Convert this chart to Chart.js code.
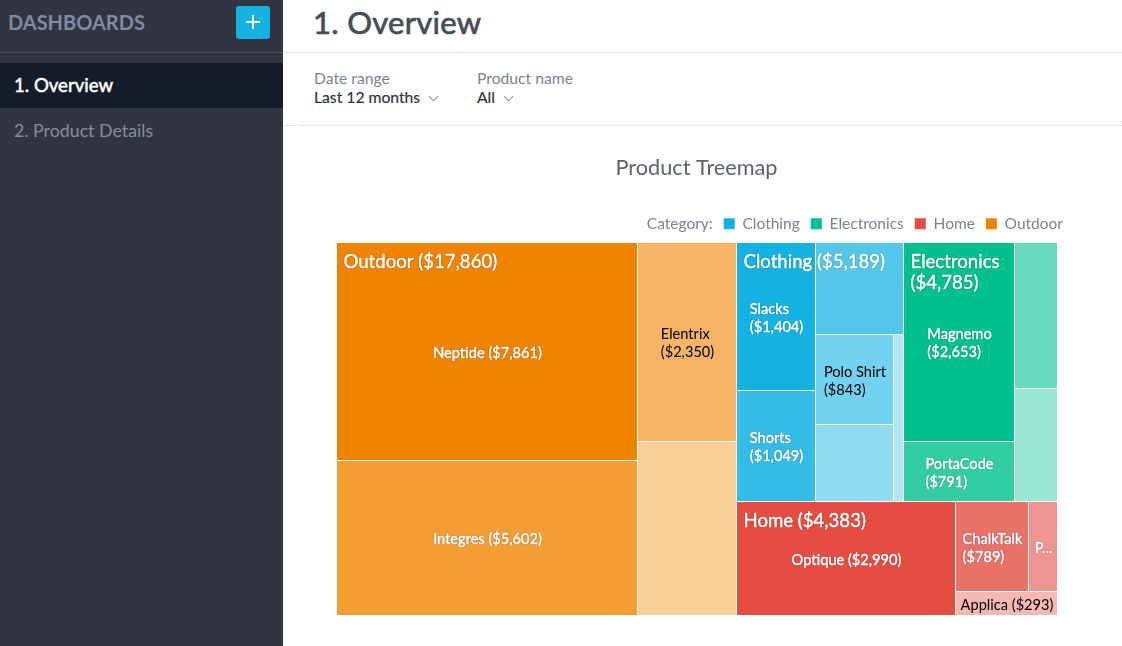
<!DOCTYPE html>
<html>
<head>
<meta charset="utf-8">
<title>1. Overview</title>
<script src="https://cdn.jsdelivr.net/npm/chart.js@4/dist/chart.umd.js"></script>
<style>
  html, body { margin: 0; height: 100%; overflow: hidden; background: #fff; font-family: Lato, sans-serif; }
  #sidebar { position: absolute; left: 0; top: 0; width: 283px; height: 646px; background: #313441; }
  #sidebar .head { position: absolute; left: 8px; top: 9px; font-size: 20px; line-height: 26px; font-weight: 700; color: #7f8ba0; }
  #sidebar .rule { position: absolute; left: 0; top: 52px; width: 283px; height: 1px; background: #464955; }
  #add { position: absolute; left: 236px; top: 6px; width: 34px; height: 33px; border-radius: 3px; background: #14b2e2; }
  #add::before { content: ""; position: absolute; left: 10px; top: 15px; width: 14px; height: 2px; background: #fff; }
  #add::after { content: ""; position: absolute; left: 16px; top: 9px; width: 2px; height: 14px; background: #fff; }
  .nav { position: absolute; left: 0; width: 269px; padding-left: 14px; height: 45px; line-height: 45px; }
  .nav.on { top: 63px; background: #131c28; color: #fff; font-size: 18.6px; -webkit-text-stroke: .5px #fff; }
  .nav.off { top: 108px; color: #858d9b; font-size: 17.8px; }
  #page-title { position: absolute; left: 313px; top: 2px; font-size: 31px; line-height: 40px; color: #464e56; -webkit-text-stroke: .7px #464e56; letter-spacing: .3px; }
  .hr { position: absolute; left: 283px; right: 0; height: 1px; background: #dfe4ec; }
  .dots { position: absolute; left: 300px; right: 0; top: 121px; border-top: 1px dotted #e6e9ee; }
  .filter { position: absolute; top: 69px; font-size: 15.7px; line-height: 19px; }
  .filter .lbl { color: #7b8490; }
  .filter .val { color: #2d343b; -webkit-text-stroke: .2px #2d343b; }
  .filter i { display: inline-block; width: 6px; height: 6px; margin: 0 0 3px 6px; border-right: 1px solid #8d959e; border-bottom: 1px solid #8d959e; transform: rotate(45deg); }
  #chart-box { position: absolute; left: 283px; top: 126px; width: 828px; height: 520px; }
</style>
</head>
<body>
<div id="sidebar">
  <div class="head">DASHBOARDS</div>
  <div id="add"></div>
  <div class="rule"></div>
  <div class="nav on">1. Overview</div>
  <div class="nav off">2. Product Details</div>
</div>
<div id="page-title">1. Overview</div>
<div class="hr" style="top:52px"></div>
<div class="filter" style="left:314px"><div class="lbl">Date range</div><div class="val">Last 12 months <i></i></div></div>
<div class="filter" style="left:477px"><div class="lbl">Product name</div><div class="val">All <i></i></div></div>
<div class="dots"></div>
<div class="hr" style="top:125px"></div>
<div id="chart-box"><canvas id="treemap" width="828" height="520"></canvas></div>

<script>
// dados (celulas sem rotulo sao estimadas pela area)
const chartTitle = 'Product Treemap';
const legendTitle = 'Category:';
const categories = ['Clothing', 'Electronics', 'Home', 'Outdoor'];
const categoryColors = ['#14b2e2', '#00c18d', '#e54d42', '#f08400'];

const clothingNames = ['Slacks', 'Shorts', '', 'Polo Shirt', '', ''];
const clothingValues = [1404, 1049, 975, 843, 729, 189];
const electronicsNames = ['Magnemo', 'PortaCode', '', ''];
const electronicsValues = [2653, 791, 759, 582];
const homeNames = ['Optique', 'ChalkTalk', 'P...', 'Applica'];
const homeValues = [2990, 789, 311, 293];
const outdoorNames = ['Neptide', 'Integres', 'Elentrix', ''];
const outdoorValues = [7861, 5602, 2350, 2047];

const leafNames = [clothingNames, electronicsNames, homeNames, outdoorNames];
const leafValues = [clothingValues, electronicsValues, homeValues, outdoorValues];

const money = v => '$' + v.toLocaleString('en-US');
const sum = a => a.reduce((s, v) => s + v, 0);

// squarified com direcao alternada: coluna, linha, coluna...
// a faixa so cresce quando a proporcao melhora de verdade (folga de 5%)
function squarify(values, x, y, w, h) {
  const rects = [];
  let left = sum(values), dir = 0, i = 0;
  const ratio = (last, row) => {
    const main = row / left * (dir === 0 ? w : h);
    const cross = last / row * (dir === 0 ? h : w);
    return Math.max(main / cross, cross / main);
  };
  while (i < values.length) {
    let j = i + 1, row = values[i];
    while (j < values.length && ratio(values[j - 1], row + values[j]) < 0.95 * ratio(values[j - 1], row)) {
      row += values[j];
      j++;
    }
    const size = row / left * (dir === 0 ? w : h);
    let pos = dir === 0 ? y : x;
    for (let k = i; k < j; k++) {
      const len = values[k] / row * (dir === 0 ? h : w);
      rects.push(dir === 0 ? { x, y: pos, w: size, h: len } : { x: pos, y, w: len, h: size });
      pos += len;
    }
    if (dir === 0) { x += size; w -= size; } else { y += size; h -= size; }
    left -= row;
    i = j;
    dir = 1 - dir;
  }
  return rects;
}

function blend(hex, alpha) {
  const c = [1, 3, 5].map(p => parseInt(hex.substr(p, 2), 16));
  return c.map(v => Math.round(255 - (255 - v) * alpha));
}

// cada celula perde opacidade conforme a posicao no grupo
function leafColor(cat, rank) {
  return blend(categoryColors[cat], 1 - 0.8 * rank / leafValues[cat].length);
}

function wrapText(ctx, text, maxW) {
  if (ctx.measureText(text).width <= maxW) return [text];
  const lines = [];
  let cur = '';
  text.split(' ').forEach(word => {
    const test = cur ? cur + ' ' + word : word;
    if (cur && ctx.measureText(test).width > maxW) { lines.push(cur); cur = word; } else cur = test;
  });
  lines.push(cur);
  return lines;
}

// contorno escuro fraco + traco fino para engrossar a fonte
function paintLabel(ctx, text, x, y, color, outlined) {
  if (outlined) {
    ctx.strokeStyle = 'rgba(0,0,0,0.22)';
    ctx.lineWidth = 1.6;
    ctx.strokeText(text, x, y);
  }
  ctx.strokeStyle = color;
  ctx.lineWidth = 0.45;
  ctx.strokeText(text, x, y);
  ctx.fillStyle = color;
  ctx.fillText(text, x, y);
}

class TreemapController extends Chart.DatasetController {
  update(mode) {
    const meta = this._cachedMeta;
    this.updateElements(meta.data, 0, meta.data.length, mode);
  }

  updateElements(rects, start, count, mode) {
    const xs = this._cachedMeta.xScale, ys = this._cachedMeta.yScale;
    const W = xs.width, H = ys.height;
    // ordem de tamanho entre categorias
    const order = categories.map((c, i) => i).sort((a, b) => sum(leafValues[b]) - sum(leafValues[a]));
    const groupRects = squarify(order.map(c => sum(leafValues[c])), 0, 0, W, H);
    this.groupBoxes = [];
    this.leafBoxes = [];
    let offsets = [], idx = 0;
    categories.forEach((c, i) => { offsets[i] = idx; idx += leafValues[i].length; });

    const px = (vx, vy) => [Math.round(xs.getPixelForValue(vx / W)), Math.round(ys.getPixelForValue(vy / H))];

    order.forEach((cat, g) => {
      const gr = groupRects[g];
      const [gx0, gy0] = px(gr.x, gr.y);
      const [gx1, gy1] = px(gr.x + gr.w, gr.y + gr.h);
      this.groupBoxes.push({ cat, x: gx0, y: gy0, w: gx1 - gx0, h: gy1 - gy0 });
      squarify(leafValues[cat], gr.x, gr.y, gr.w, gr.h).forEach((r, k) => {
        const [x0, y0] = px(r.x, r.y);
        const [x1, y1] = px(r.x + r.w, r.y + r.h);
        const index = offsets[cat] + k;
        this.leafBoxes[index] = { cat, k, x: x0, y: y0, w: x1 - x0, h: y1 - y0 };
        // +1: a borda branca de 1px fica compartilhada com a celula vizinha
        this.updateElement(rects[index], index, {
          x: (x0 + x1 + 1) / 2,
          y: y0,
          base: y1 + 1,
          width: x1 - x0 + 1,
          height: y1 - y0 + 1,
          horizontal: false,
          borderSkipped: {},
          enableBorderRadius: false,
          inflateAmount: 0,
          options: this.resolveDataElementOptions(index, mode)
        }, mode);
      });
    });
  }

  draw() {
    const ctx = this.chart.ctx;
    this._cachedMeta.data.forEach(r => r.draw(ctx));
    ctx.save();
    ctx.textBaseline = 'middle';
    ctx.textAlign = 'left';
    ctx.lineJoin = 'round';

    ctx.font = '14.6px Lato';
    this.leafBoxes.forEach(b => {
      const name = leafNames[b.cat][b.k];
      if (!name) return;
      const text = name.endsWith('...') ? name : `${name} (${money(leafValues[b.cat][b.k])})`;
      const lines = wrapText(ctx, text, b.w - 6);
      const c = leafColor(b.cat, b.k);
      const dark = (c[0] * c[0] + c[1] * c[1] + c[2] * c[2]) / (255 * 255) > 1.56;
      const tw = Math.max(...lines.map(l => ctx.measureText(l).width));
      const tx = b.x + (b.w - tw) / 2 + 1;
      let ty = b.y + b.h / 2 - (lines.length - 1) * 9 + 2;
      lines.forEach(l => {
        if (dark) {
          ctx.fillStyle = '#000';
          ctx.fillText(l, tx, ty);
        } else {
          paintLabel(ctx, l, tx, ty, '#fff', true);
        }
        ty += 18;
      });
    });

    ctx.font = '18.6px Lato';
    this.groupBoxes.forEach(b => {
      const text = `${categories[b.cat]} (${money(sum(leafValues[b.cat]))})`;
      let ty = b.y + 20;
      wrapText(ctx, text, b.w - 14).forEach(l => {
        paintLabel(ctx, l, b.x + 7.5, ty, '#fff', true);
        ty += 21;
      });
    });
    ctx.restore();
  }
}
TreemapController.id = 'treemap';
TreemapController.defaults = { dataElementType: 'bar', datasetElementType: false };
Chart.register(TreemapController);

// legenda termina alem da area do grafico
const legendShift = {
  id: 'legendShift',
  afterLayout(chart) {
    chart.legend.left += 17;
    chart.legend.right += 17;
  }
};

const cellColors = [];
categories.forEach((c, i) => leafValues[i].forEach((v, k) => cellColors.push(`rgb(${leafColor(i, k).join(',')})`)));
const legendColor = '#7b8490';

new Chart(document.getElementById('treemap'), {
  type: 'treemap',
  plugins: [legendShift],
  data: {
    labels: leafNames.flat(),
    datasets: [{
      data: leafValues.flat(),
      backgroundColor: cellColors,
      borderColor: '#fff',
      borderWidth: 1
    }]
  },
  options: {
    responsive: false,
    animation: false,
    events: [],
    layout: { padding: { left: 53, right: 54, top: 29, bottom: 31 } },
    scales: {
      x: { type: 'linear', display: false, min: 0, max: 1 },
      y: { type: 'linear', display: false, min: 0, max: 1, reverse: true }
    },
    plugins: {
      tooltip: { enabled: false },
      title: {
        display: true,
        text: chartTitle,
        color: '#5b636b',
        font: { family: 'Lato', size: 21.7, weight: 'normal' },
        padding: { top: 0, bottom: 24 }
      },
      legend: {
        position: 'top',
        align: 'end',
        labels: {
          boxWidth: 11,
          boxHeight: 11,
          padding: 11,
          color: legendColor,
          font: { family: 'Lato', size: 15.5 },
          generateLabels: () => [
            { text: legendTitle, fillStyle: 'rgba(0,0,0,0)', strokeStyle: 'rgba(0,0,0,0)', lineWidth: 0, fontColor: legendColor },
            ...categories.map((c, i) => ({ text: c, fillStyle: categoryColors[i], strokeStyle: categoryColors[i], lineWidth: 0, fontColor: legendColor }))
          ]
        }
      }
    }
  }
});
</script>
</body>
</html>
